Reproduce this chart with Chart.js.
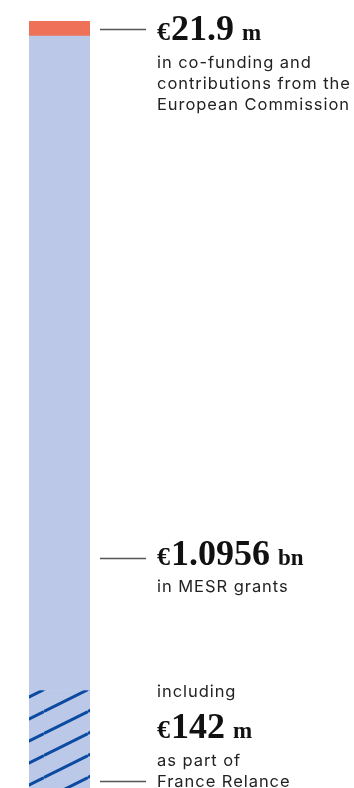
<!DOCTYPE html>
<html>
<head>
<meta charset="utf-8">
<script src="https://cdn.jsdelivr.net/npm/chart.js@4/dist/chart.umd.min.js"></script>
<style>
  html, body { margin: 0; padding: 0; background: #fff; }
  #wrap { position: relative; width: 354px; height: 788px; overflow: hidden; }
  #chart { position: absolute; left: 0; top: 0; }
  .big { position: absolute; left: 157px; font-family: 'Liberation Serif', serif; font-weight: bold;
         font-size: 36px; line-height: 36px; color: #111; letter-spacing: 0; white-space: nowrap; }
  .big .cur { font-size: 26px; margin-right: 1px; }
  .big .unit { font-size: 23px; margin-left: 8px; }
  .sub { position: absolute; left: 157px; font-family: Inter, sans-serif; font-size: 16.5px;
         line-height: 21px; color: #222; letter-spacing: 0.95px; white-space: nowrap; }
</style>
</head>
<body>
<div id="wrap">
  <canvas id="chart" width="354" height="788"></canvas>
  <div class="big" style="top:10px"><span class="cur">€</span>21.9<span class="unit">m</span></div>
  <div class="sub" style="top:52px">in co-funding and<br>contributions from the<br>European Commission</div>
  <div class="big" style="top:535px"><span class="cur">€</span>1.0956<span class="unit">bn</span></div>
  <div class="sub" style="top:576px">in MESR grants</div>
  <div class="sub" style="top:681px">including</div>
  <div class="big" style="top:708px"><span class="cur">€</span>142<span class="unit">m</span></div>
  <div class="sub" style="top:750px">as part of<br>France Relance</div>
</div>
<script>
// values in millions of euros
const categories = ['Funding'];
const mesrGrants = [1095.6];
const franceRelance = [142];
const ecContributions = [21.9];

const mesrOther = mesrGrants.map((v, i) => v - franceRelance[i]);
const total = mesrGrants[0] + ecContributions[0];

function hatchPattern() {
  const c = document.createElement('canvas');
  c.width = 44; c.height = 22;
  const g = c.getContext('2d');
  g.fillStyle = '#bbc8e8';
  g.fillRect(0, 0, 44, 22);
  g.strokeStyle = '#0a4aa0';
  g.lineWidth = 3;
  for (let k = -1; k <= 2; k++) {
    g.beginPath();
    g.moveTo(0, 7.5 + 22 * k);
    g.lineTo(44, -14.5 + 22 * k);
    g.stroke();
  }
  return g.createPattern(c, 'repeat');
}

const leaders = {
  id: 'leaders',
  afterDraw(chart) {
    const ctx = chart.ctx;
    const y = chart.scales.y;
    const ys = [
      y.getPixelForValue(mesrGrants[0] + ecContributions[0] / 2),
      558,
      781
    ];
    ctx.save();
    ctx.strokeStyle = '#555';
    ctx.lineWidth = 1.5;
    ys.forEach(py => {
      ctx.beginPath();
      ctx.moveTo(100, Math.round(py) + 0.5);
      ctx.lineTo(146, Math.round(py) + 0.5);
      ctx.stroke();
    });
    ctx.restore();
  }
};

new Chart(document.getElementById('chart'), {
  type: 'bar',
  data: {
    labels: categories,
    datasets: [
      { label: 'France Relance', data: franceRelance, backgroundColor: hatchPattern() },
      { label: 'MESR grants', data: mesrOther, backgroundColor: '#bbc8e8' },
      { label: 'European Commission', data: ecContributions, backgroundColor: '#ef7157' }
    ]
  },
  options: {
    responsive: false,
    animation: false,
    layout: { padding: { left: 29, right: 264, top: 21, bottom: 0 } },
    datasets: { bar: { barPercentage: 1, categoryPercentage: 1, borderWidth: 0 } },
    plugins: { legend: { display: false }, tooltip: { enabled: false } },
    scales: {
      x: { stacked: true, display: false },
      y: { stacked: true, display: false, min: 0, max: total }
    }
  },
  plugins: [leaders]
});
</script>
</body>
</html>
